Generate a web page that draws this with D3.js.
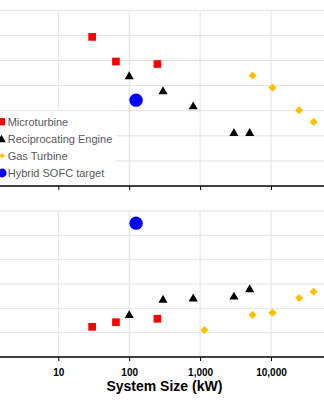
<!DOCTYPE html>
<html>
<head>
<meta charset="utf-8">
<script src="https://cdn.jsdelivr.net/npm/d3@7"></script>
<style>
  html, body { margin: 0; padding: 0; background: #fff; }
  svg { display: block; font-family: "Liberation Sans", Arial, sans-serif; }
</style>
</head>
<body>
<svg id="chart" width="324" height="400"></svg>
<script>
// ---- Data ----
const xTicks = [1, 10, 100, 1000, 10000, 100000];

const microKw   = [30, 65, 250];
const microCost = [2970, 2480, 2430];
const microEff  = [22.4, 24.3, 25.7];

const recipKw   = [100, 300, 800, 3000, 5000];
const recipCost = [2180, 1880, 1580, 1050, 1050];
const recipEff  = [27.1, 33.4, 33.9, 34.7, 37.7];

const gasCostKw = [5500, 10500, 25000, 40000];
const gasCost   = [2200, 1960, 1510, 1275];
const gasEffKw  = [1150, 5500, 10500, 25000, 40000];
const gasEff    = [21.1, 27.3, 28.2, 34.2, 36.8];

const sofcKw   = [125];
const sofcCost = [1710];
const sofcEff  = [65];

const legendLabels = ["Microturbine", "Reciprocating Engine", "Gas Turbine", "Hybrid SOFC target"];
const costTicks = [0, 500, 1000, 1500, 2000, 2500, 3000, 3500];
const effTicks  = [10, 20, 30, 40, 50, 60, 70];

// ---- Styles ----
const colors = { micro: "#ff0000", recip: "#000000", gas: "#ffc000", sofc: "#0000ff" };
const gridColor = "#e3e3e3";

const svg = d3.select("#chart");

// ---- Scales ----
const x = d3.scaleLog().domain([1, 100000]).range([-12.6, 341.9]);
const plotLeft = -40, plotRight = 342;

const yTop = d3.scaleLinear().domain([0, 3500]).range([186, 10.3]);
const yBot = d3.scaleLinear().domain([10, 70]).range([357, 211]);

function panel(y, ticks) {
  const g = svg.append("g");
  const [y0, y1] = y.range();
  g.append("g").selectAll("line").data(ticks.slice(1)).join("line")
    .attr("x1", plotLeft).attr("x2", plotRight)
    .attr("y1", d => y(d)).attr("y2", d => y(d))
    .attr("stroke", gridColor).attr("stroke-width", 1);
  g.append("g").selectAll("line").data(xTicks).join("line")
    .attr("x1", d => x(d)).attr("x2", d => x(d))
    .attr("y1", y1).attr("y2", y0)
    .attr("stroke", gridColor).attr("stroke-width", 1);
  return g;
}

const gTop = panel(yTop, costTicks);
const gBot = panel(yBot, effTicks);

function symbolPath(type, size) { return d3.symbol().type(type).size(size)(); }

function drawSeries(g, xs, ys, y, kind) {
  const data = xs.map((d, i) => [d, ys[i]]);
  if (kind === "micro") {
    g.append("g").selectAll("path").data(data).join("path")
      .attr("d", symbolPath(d3.symbolSquare, 59))
      .attr("transform", d => `translate(${x(d[0])},${y(d[1])})`)
      .attr("fill", colors.micro);
  } else if (kind === "recip") {
    g.append("g").selectAll("path").data(data).join("path")
      .attr("d", symbolPath(d3.symbolTriangle, 36))
      .attr("transform", d => `translate(${x(d[0])},${y(d[1])})`)
      .attr("fill", colors.recip);
  } else if (kind === "gas") {
    g.append("g").selectAll("path").data(data).join("path")
      .attr("d", symbolPath(d3.symbolSquare, 33))
      .attr("transform", d => `translate(${x(d[0])},${y(d[1])}) rotate(45)`)
      .attr("fill", colors.gas);
  } else {
    g.append("g").selectAll("circle").data(data).join("circle")
      .attr("cx", d => x(d[0])).attr("cy", d => y(d[1])).attr("r", 6.7)
      .attr("fill", colors.sofc);
  }
}

drawSeries(gTop, microKw, microCost, yTop, "micro");
drawSeries(gTop, recipKw, recipCost, yTop, "recip");
drawSeries(gTop, gasCostKw, gasCost, yTop, "gas");
drawSeries(gTop, sofcKw, sofcCost, yTop, "sofc");

drawSeries(gBot, microKw, microEff, yBot, "micro");
drawSeries(gBot, recipKw, recipEff, yBot, "recip");
drawSeries(gBot, gasEffKw, gasEff, yBot, "gas");
drawSeries(gBot, sofcKw, sofcEff, yBot, "sofc");

// ---- Legend (top panel, lower-left) ----
const leg = svg.append("g");
leg.append("rect").attr("x", -10).attr("y", 111).attr("width", 126).attr("height", 74)
  .attr("fill", "#fff");
const legY = [121.7, 138.7, 155.7, 173];
const legKinds = ["micro", "recip", "gas", "sofc"];
legKinds.forEach((k, i) => {
  const cy = legY[i];
  if (k === "micro") {
    leg.append("path").attr("d", symbolPath(d3.symbolSquare, 53))
      .attr("transform", `translate(1.4,${cy})`).attr("fill", colors.micro);
  } else if (k === "recip") {
    leg.append("path").attr("d", symbolPath(d3.symbolTriangle, 32))
      .attr("transform", `translate(1.5,${cy + 1})`).attr("fill", colors.recip);
  } else if (k === "gas") {
    leg.append("path").attr("d", symbolPath(d3.symbolSquare, 14))
      .attr("transform", `translate(2.2,${cy}) rotate(45)`).attr("fill", colors.gas);
  } else {
    leg.append("circle").attr("cx", 2.2).attr("cy", cy).attr("r", 4.4).attr("fill", colors.sofc);
  }
  leg.append("text").attr("x", 7.7).attr("y", cy + 4)
    .attr("font-size", 11).attr("fill", "#595959").text(legendLabels[i]);
});

// ---- X axes ----
function xAxis(yPos, labels) {
  const fmt = d3.format(",");
  const ax = d3.axisBottom(x).tickValues(xTicks).tickSize(4).tickSizeOuter(0).tickPadding(8)
    .tickFormat(d => (labels && d > 1) ? fmt(d) : "");
  const g = svg.append("g").attr("transform", `translate(0,${yPos})`).call(ax);
  g.select(".domain").attr("d", `M${plotLeft},0H${plotRight}`).attr("stroke", "#000").attr("stroke-width", 1.4);
  g.selectAll(".tick line").attr("stroke", "#000").attr("stroke-width", 1);
  g.selectAll(".tick text").attr("font-size", 10).attr("font-weight", "bold")
    .attr("fill", "#000").attr("font-family", "Liberation Sans, Arial, sans-serif");
}
xAxis(186, false);
xAxis(357, true);

svg.append("text").attr("x", 164.4).attr("y", 390.5).attr("text-anchor", "middle")
  .attr("font-size", 14).attr("font-weight", "bold").attr("fill", "#000")
  .text("System Size (kW)");
</script>
</body>
</html>
